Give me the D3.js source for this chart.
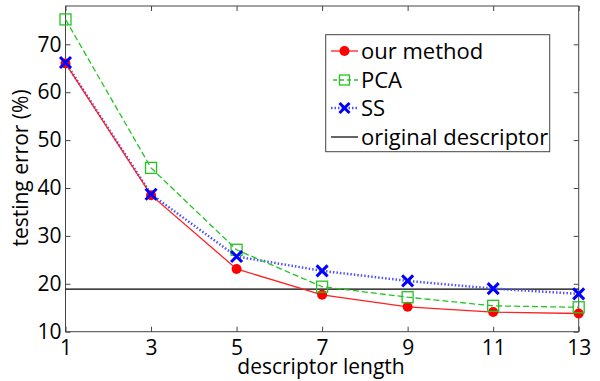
<!DOCTYPE html>
<html><head><meta charset="utf-8">
<script src="https://cdn.jsdelivr.net/npm/d3@7"></script>
<style>body{margin:0;background:#fff;}svg{display:block;font-family:"Open Sans",sans-serif;}</style>
</head><body><svg id="c" width="600" height="381"></svg>
<script>
const lengths = [1, 3, 5, 7, 9, 11, 13];
const ourMethod = [66.0, 38.5, 23.1, 17.7, 15.2, 14.1, 13.8];
const pca = [75.2, 44.2, 27.1, 19.4, 17.2, 15.4, 15.1];
const ss = [66.2, 38.7, 25.7, 22.7, 20.6, 19.0, 17.9];
const originalDescriptor = 18.9;
const yTicks = [10, 20, 30, 40, 50, 60, 70];
const seriesNames = ["our method", "PCA", "SS", "original descriptor"];

const svg = d3.select("#c");
const L = 65.5, R = 578.7, T = 6, B = 331.7;
const x = d3.scaleLinear().domain([1, 13]).range([L, R]);
const y = d3.scaleLinear().domain([10, 78]).range([B, T]);
const axisColor = "#444";

svg.append("rect").attr("x", L).attr("y", T).attr("width", R - L).attr("height", B - T)
  .attr("fill", "none").attr("stroke", axisColor).attr("stroke-width", 1);

const gx = svg.append("g").attr("transform", `translate(0,${B})`)
  .call(d3.axisBottom(x).tickValues(lengths).tickSizeInner(-5).tickSizeOuter(0).tickPadding(8));
const gxt = svg.append("g").attr("transform", `translate(0,${T})`)
  .call(d3.axisTop(x).tickValues(lengths).tickSizeInner(-5).tickSizeOuter(0).tickFormat(""));
const gy = svg.append("g").attr("transform", `translate(${L},0)`)
  .call(d3.axisLeft(y).tickValues(yTicks).tickSizeInner(-5).tickSizeOuter(0).tickPadding(4));
const gyr = svg.append("g").attr("transform", `translate(${R},0)`)
  .call(d3.axisRight(y).tickValues(yTicks).tickSizeInner(-5).tickSizeOuter(0).tickFormat(""));
[gx, gxt, gy, gyr].forEach(g => {
  g.select(".domain").remove();
  g.selectAll(".tick line").attr("stroke", axisColor);
  g.selectAll("text").attr("fill", "#000").style("font-size", "21px").style("font-family", '"Open Sans",sans-serif');
});
gx.selectAll("text").attr("dy", "0.71em");

svg.append("line").attr("x1", L).attr("x2", R)
  .attr("y1", y(originalDescriptor)).attr("y2", y(originalDescriptor))
  .attr("stroke", "#000").attr("stroke-width", 1.2);

const line = d3.line().x((d, i) => x(lengths[i])).y(d => y(d));

svg.append("path").datum(ss).attr("d", line).attr("fill", "none")
  .attr("stroke", "#5050ff").attr("stroke-width", 2.5).attr("stroke-dasharray", "1.5,2");
svg.append("path").datum(pca).attr("d", line).attr("fill", "none")
  .attr("stroke", "#22c422").attr("stroke-width", 1.3).attr("stroke-dasharray", "6,3");
svg.append("path").datum(ourMethod).attr("d", line).attr("fill", "none")
  .attr("stroke", "#ff2020").attr("stroke-width", 1.3);

svg.selectAll(".om").data(ourMethod).join("circle")
  .attr("cx", (d, i) => x(lengths[i])).attr("cy", d => y(d)).attr("r", 5).attr("fill", "#f00");
svg.selectAll(".pc").data(pca).join("rect")
  .attr("x", (d, i) => x(lengths[i]) - 5.5).attr("y", d => y(d) - 5.5)
  .attr("width", 11).attr("height", 11).attr("fill", "none").attr("stroke", "#22c422").attr("stroke-width", 1.3);
const xs = 5.5;
svg.selectAll(".ssm").data(ss).join("path")
  .attr("d", (d, i) => { const cx = x(lengths[i]), cy = y(d);
    return `M${cx - xs},${cy - xs}L${cx + xs},${cy + xs}M${cx - xs},${cy + xs}L${cx + xs},${cy - xs}`; })
  .attr("stroke", "#0000ff").attr("stroke-width", 3).attr("fill", "none");

svg.append("text").attr("x", 321).attr("y", 374).attr("text-anchor", "middle")
  .style("font-size", "21px").text("descriptor length");
svg.append("text").attr("transform", `translate(28,168) rotate(-90)`).attr("text-anchor", "middle")
  .style("font-size", "21px").text("testing error (%)");

const lg = svg.append("g");
lg.append("rect").attr("x", 325.7).attr("y", 34.7).attr("width", 224).attr("height", 117)
  .attr("fill", "#fff").attr("stroke", axisColor).attr("stroke-width", 1);
const rows = [51, 80, 108, 137];
const lx1 = 331, lx2 = 358, lm = 344.5;
lg.append("line").attr("x1", lx1).attr("x2", lx2).attr("y1", rows[0]).attr("y2", rows[0]).attr("stroke", "#ff2020").attr("stroke-width", 1.3);
lg.append("circle").attr("cx", lm).attr("cy", rows[0]).attr("r", 5).attr("fill", "#f00");
lg.append("line").attr("x1", lx1 + 2).attr("x2", lx2).attr("y1", rows[1]).attr("y2", rows[1]).attr("stroke", "#22c422").attr("stroke-width", 1.3).attr("stroke-dasharray", "4,3");
lg.append("rect").attr("x", lm - 5).attr("y", rows[1] - 5).attr("width", 10).attr("height", 10).attr("fill", "none").attr("stroke", "#22c422").attr("stroke-width", 1.3);
lg.append("line").attr("x1", lx1).attr("x2", lx2).attr("y1", rows[2]).attr("y2", rows[2]).attr("stroke", "#5050ff").attr("stroke-width", 2.5).attr("stroke-dasharray", "1.5,2");
lg.append("path").attr("d", `M${lm - 5},${rows[2] - 5}L${lm + 5},${rows[2] + 5}M${lm - 5},${rows[2] + 5}L${lm + 5},${rows[2] - 5}`).attr("stroke", "#0000ff").attr("stroke-width", 3);
lg.append("line").attr("x1", lx1).attr("x2", lx2).attr("y1", rows[3]).attr("y2", rows[3]).attr("stroke", "#000").attr("stroke-width", 1.2);
seriesNames.forEach((n, i) => {
  lg.append("text").attr("x", 361).attr("y", rows[i]).attr("dy", "0.35em").style("font-size", "22px").text(n);
});
</script></body></html>
